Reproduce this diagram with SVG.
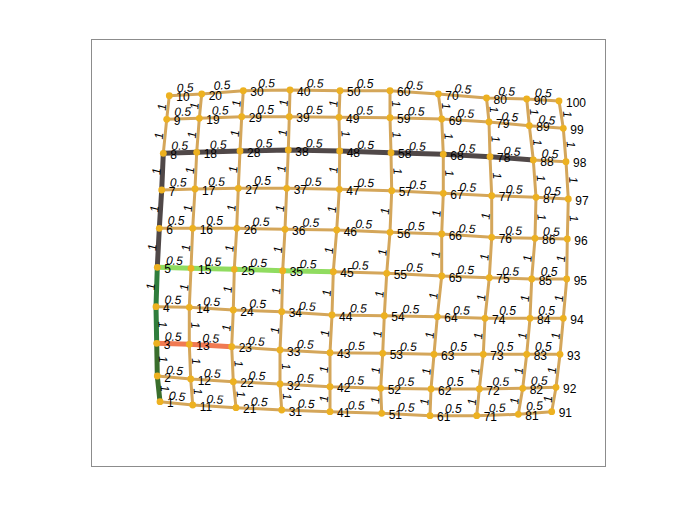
<svg xmlns="http://www.w3.org/2000/svg" width="700" height="525" viewBox="0 0 700 525">
<style>
.e{fill:none;stroke:#d4a65a;stroke-width:3;stroke-linejoin:round}
.h{fill:none;stroke-width:5;stroke-linejoin:round}
.n circle{fill:#edb120}
.n text{font-family:"Liberation Sans",Arial,sans-serif;font-size:12px;fill:#000}
.el text{font-family:"Liberation Sans",Arial,sans-serif;font-size:12px;font-style:italic;fill:#000;text-anchor:middle}
</style>
<rect x="0" y="0" width="700" height="525" fill="#fff"/>
<rect x="91.5" y="39.5" width="514" height="427" fill="#fff" stroke="#8c8c8c" stroke-width="1"/>
<g id="connectors">
<polyline class="e" points="160,401.7 157.3,376 156.7,343.3 156,306.7 157.3,267.3 159.3,228.3 161.7,190 163.3,153.3 166.7,119.3 169.3,95.7"/>
<polyline class="e" points="192.7,405 190.7,379 189.3,344.3 189.3,307.3 191,268.3 192.7,228.3 195,189 196.7,152.3 199.3,118.3 201.7,94"/>
<polyline class="e" points="236,407.7 233.3,381.7 231.7,346.7 233.3,310 234.3,269.3 236.7,228.3 238.3,188.3 240,151 241.7,116.7 243.3,90.7"/>
<polyline class="e" points="281.7,410 280,384 280,350 281.7,311.7 282.7,270.7 285,229.3 286.7,188.3 288.3,150 289.3,116.7 290,90"/>
<polyline class="e" points="330,411.7 330,386.7 330,352.7 332,315 333.3,271.7 336.7,230 339.3,189.3 339.7,151 339,117.3 340,90.7"/>
<polyline class="e" points="381.7,413.3 380.7,388.3 382.7,353.3 384.3,315.7 386.7,273.3 390,232.3 391.7,190.7 391,152.7 390,117.7 390,90.7"/>
<polyline class="e" points="430,415.7 431,389 434,354.3 437.3,316.7 441.7,276 441.7,234 443.3,193.3 443.3,154.3 441.7,119 438.3,94"/>
<polyline class="e" points="476.7,415.7 479.3,389 483.3,354.3 485,318.3 489.3,277.7 491.7,237.3 491.7,195.7 490,156.7 489,122 486.5,98"/>
<polyline class="e" points="518.3,414.3 522.7,388.3 526.7,354.3 530,318.3 531.7,279 535,238.3 536,197.3 533.3,160 529.3,125.7 526.7,99"/>
<polyline class="e" points="551.7,411.7 556,387.3 560,354.3 563.3,318.3 566.7,279 567.3,239 568.3,199 566,161.7 563.3,128.3 559,101"/>
<polyline class="e" points="160,401.7 192.7,405 236,407.7 281.7,410 330,411.7 381.7,413.3 430,415.7 476.7,415.7 518.3,414.3 551.7,411.7"/>
<polyline class="e" points="157.3,376 190.7,379 233.3,381.7 280,384 330,386.7 380.7,388.3 431,389 479.3,389 522.7,388.3 556,387.3"/>
<polyline class="e" points="156.7,343.3 189.3,344.3 231.7,346.7 280,350 330,352.7 382.7,353.3 434,354.3 483.3,354.3 526.7,354.3 560,354.3"/>
<polyline class="e" points="156,306.7 189.3,307.3 233.3,310 281.7,311.7 332,315 384.3,315.7 437.3,316.7 485,318.3 530,318.3 563.3,318.3"/>
<polyline class="e" points="157.3,267.3 191,268.3 234.3,269.3 282.7,270.7 333.3,271.7 386.7,273.3 441.7,276 489.3,277.7 531.7,279 566.7,279"/>
<polyline class="e" points="159.3,228.3 192.7,228.3 236.7,228.3 285,229.3 336.7,230 390,232.3 441.7,234 491.7,237.3 535,238.3 567.3,239"/>
<polyline class="e" points="161.7,190 195,189 238.3,188.3 286.7,188.3 339.3,189.3 391.7,190.7 443.3,193.3 491.7,195.7 536,197.3 568.3,199"/>
<polyline class="e" points="163.3,153.3 196.7,152.3 240,151 288.3,150 339.7,151 391,152.7 443.3,154.3 490,156.7 533.3,160 566,161.7"/>
<polyline class="e" points="166.7,119.3 199.3,118.3 241.7,116.7 289.3,116.7 339,117.3 390,117.7 441.7,119 489,122 529.3,125.7 563.3,128.3"/>
<polyline class="e" points="169.3,95.7 201.7,94 243.3,90.7 290,90 340,90.7 390,90.7 438.3,94 486.5,98 526.7,99 559,101"/>
<polyline class="h" stroke="#504848" points="157.3,267.3 159.3,228.3 161.7,190 163.3,153.3 196.7,152.3 240,151 288.3,150 339.7,151 391,152.7 443.3,154.3 490,156.7 533.3,160"/>
<polyline class="h" stroke="#2f7d3c" points="157.3,267.3 156,306.7 156.7,343.3"/>
<polyline class="h" stroke="#3a6e2c" points="156.7,343.3 157.3,376 160,401.7"/>
<polyline class="h" stroke="#90dc60" points="157.3,267.3 191,268.3 234.3,269.3 282.7,270.7 333.3,271.7"/>
<polyline class="h" stroke="#f07a52" points="156.7,343.3 189.3,344.3 231.7,346.7"/>
<g class="el">
<text transform="translate(176.4 403.4) rotate(5.8)" y="-3">0.5</text>
<text transform="translate(214.4 406.4) rotate(3.6)" y="-3">0.5</text>
<text transform="translate(258.9 408.9) rotate(2.9)" y="-3">0.5</text>
<text transform="translate(305.9 410.9) rotate(2)" y="-3">0.5</text>
<text transform="translate(355.9 412.5) rotate(1.8)" y="-3">0.5</text>
<text transform="translate(405.9 414.5) rotate(2.8)" y="-3">0.5</text>
<text transform="translate(453.4 415.7) rotate(0)" y="-3">0.5</text>
<text transform="translate(497.5 415) rotate(-1.9)" y="-3">0.5</text>
<text transform="translate(535 413) rotate(-4.5)" y="-3">0.5</text>
<text transform="translate(174 377.5) rotate(5.1)" y="-3">0.5</text>
<text transform="translate(212 380.4) rotate(3.6)" y="-3">0.5</text>
<text transform="translate(256.7 382.9) rotate(2.8)" y="-3">0.5</text>
<text transform="translate(305 385.4) rotate(3.1)" y="-3">0.5</text>
<text transform="translate(355.4 387.5) rotate(1.8)" y="-3">0.5</text>
<text transform="translate(405.9 388.7) rotate(0.8)" y="-3">0.5</text>
<text transform="translate(455.2 389) rotate(0)" y="-3">0.5</text>
<text transform="translate(501 388.7) rotate(-0.9)" y="-3">0.5</text>
<text transform="translate(539.4 387.8) rotate(-1.7)" y="-3">0.5</text>
<text transform="translate(173 343.8) rotate(1.8)" y="-3">0.5</text>
<text transform="translate(210.5 345.5) rotate(3.2)" y="-3">0.5</text>
<text transform="translate(255.9 348.4) rotate(3.9)" y="-3">0.5</text>
<text transform="translate(305 351.4) rotate(3.1)" y="-3">0.5</text>
<text transform="translate(356.4 353) rotate(0.7)" y="-3">0.5</text>
<text transform="translate(408.4 353.8) rotate(1.1)" y="-3">0.5</text>
<text transform="translate(458.7 354.3) rotate(0)" y="-3">0.5</text>
<text transform="translate(505 354.3) rotate(0)" y="-3">0.5</text>
<text transform="translate(543.4 354.3) rotate(0)" y="-3">0.5</text>
<text transform="translate(172.7 307) rotate(1)" y="-3">0.5</text>
<text transform="translate(211.3 308.7) rotate(3.5)" y="-3">0.5</text>
<text transform="translate(257.5 310.9) rotate(2)" y="-3">0.5</text>
<text transform="translate(306.9 313.4) rotate(3.8)" y="-3">0.5</text>
<text transform="translate(358.2 315.4) rotate(0.8)" y="-3">0.5</text>
<text transform="translate(410.8 316.2) rotate(1.1)" y="-3">0.5</text>
<text transform="translate(461.2 317.5) rotate(1.9)" y="-3">0.5</text>
<text transform="translate(507.5 318.3) rotate(0)" y="-3">0.5</text>
<text transform="translate(546.7 318.3) rotate(0)" y="-3">0.5</text>
<text transform="translate(174.2 267.8) rotate(1.7)" y="-3">0.5</text>
<text transform="translate(212.7 268.8) rotate(1.3)" y="-3">0.5</text>
<text transform="translate(258.5 270) rotate(1.7)" y="-3">0.5</text>
<text transform="translate(308 271.2) rotate(1.1)" y="-3">0.5</text>
<text transform="translate(360 272.5) rotate(1.7)" y="-3">0.5</text>
<text transform="translate(414.2 274.7) rotate(2.8)" y="-3">0.5</text>
<text transform="translate(465.5 276.9) rotate(2)" y="-3">0.5</text>
<text transform="translate(510.5 278.4) rotate(1.8)" y="-3">0.5</text>
<text transform="translate(549.2 279) rotate(0)" y="-3">0.5</text>
<text transform="translate(176 228.3) rotate(0)" y="-3">0.5</text>
<text transform="translate(214.7 228.3) rotate(0)" y="-3">0.5</text>
<text transform="translate(260.9 228.8) rotate(1.2)" y="-3">0.5</text>
<text transform="translate(310.9 229.7) rotate(0.8)" y="-3">0.5</text>
<text transform="translate(363.4 231.2) rotate(2.5)" y="-3">0.5</text>
<text transform="translate(415.9 233.2) rotate(1.9)" y="-3">0.5</text>
<text transform="translate(466.7 235.7) rotate(3.8)" y="-3">0.5</text>
<text transform="translate(513.4 237.8) rotate(1.3)" y="-3">0.5</text>
<text transform="translate(551.2 238.7) rotate(1.2)" y="-3">0.5</text>
<text transform="translate(178.4 189.5) rotate(-1.7)" y="-3">0.5</text>
<text transform="translate(216.7 188.7) rotate(-0.9)" y="-3">0.5</text>
<text transform="translate(262.5 188.3) rotate(0)" y="-3">0.5</text>
<text transform="translate(313 188.8) rotate(1.1)" y="-3">0.5</text>
<text transform="translate(365.5 190) rotate(1.5)" y="-3">0.5</text>
<text transform="translate(417.5 192) rotate(2.9)" y="-3">0.5</text>
<text transform="translate(467.5 194.5) rotate(2.8)" y="-3">0.5</text>
<text transform="translate(513.9 196.5) rotate(2.1)" y="-3">0.5</text>
<text transform="translate(552.2 198.2) rotate(3)" y="-3">0.5</text>
<text transform="translate(180 152.8) rotate(-1.7)" y="-3">0.5</text>
<text transform="translate(218.4 151.7) rotate(-1.7)" y="-3">0.5</text>
<text transform="translate(264.2 150.5) rotate(-1.2)" y="-3">0.5</text>
<text transform="translate(314 150.5) rotate(1.1)" y="-3">0.5</text>
<text transform="translate(365.4 151.9) rotate(1.9)" y="-3">0.5</text>
<text transform="translate(417.2 153.5) rotate(1.8)" y="-3">0.5</text>
<text transform="translate(466.7 155.5) rotate(2.9)" y="-3">0.5</text>
<text transform="translate(511.7 158.4) rotate(4.4)" y="-3">0.5</text>
<text transform="translate(549.7 160.9) rotate(3)" y="-3">0.5</text>
<text transform="translate(183 118.8) rotate(-1.8)" y="-3">0.5</text>
<text transform="translate(220.5 117.5) rotate(-2.2)" y="-3">0.5</text>
<text transform="translate(265.5 116.7) rotate(0)" y="-3">0.5</text>
<text transform="translate(314.2 117) rotate(0.7)" y="-3">0.5</text>
<text transform="translate(364.5 117.5) rotate(0.4)" y="-3">0.5</text>
<text transform="translate(415.9 118.4) rotate(1.4)" y="-3">0.5</text>
<text transform="translate(465.4 120.5) rotate(3.6)" y="-3">0.5</text>
<text transform="translate(509.2 123.9) rotate(5.2)" y="-3">0.5</text>
<text transform="translate(546.3 127) rotate(4.4)" y="-3">0.5</text>
<text transform="translate(185.5 94.9) rotate(-3)" y="-3">0.5</text>
<text transform="translate(222.5 92.4) rotate(-4.5)" y="-3">0.5</text>
<text transform="translate(266.7 90.4) rotate(-0.9)" y="-3">0.5</text>
<text transform="translate(315 90.4) rotate(0.8)" y="-3">0.5</text>
<text transform="translate(365 90.7) rotate(0)" y="-3">0.5</text>
<text transform="translate(414.2 92.4) rotate(3.9)" y="-3">0.5</text>
<text transform="translate(462.4 96) rotate(4.7)" y="-3">0.5</text>
<text transform="translate(506.6 98.5) rotate(1.4)" y="-3">0.5</text>
<text transform="translate(542.9 100) rotate(3.5)" y="-3">0.5</text>
<text transform="translate(158.7 388.9) rotate(86)" y="-2">1</text>
<text transform="translate(157 359.7) rotate(86)" y="-2">1</text>
<text transform="translate(156.4 325) rotate(86)" y="-2">1</text>
<text transform="translate(156.7 287) rotate(-86)" y="-2">1</text>
<text transform="translate(158.3 247.8) rotate(-86)" y="-2">1</text>
<text transform="translate(160.5 209.2) rotate(-86)" y="-2">1</text>
<text transform="translate(162.5 171.7) rotate(-86)" y="-2">1</text>
<text transform="translate(165 136.3) rotate(-86)" y="-2">1</text>
<text transform="translate(168 107.5) rotate(-86)" y="-2">1</text>
<text transform="translate(191.7 392) rotate(86)" y="-2">1</text>
<text transform="translate(190 361.7) rotate(86)" y="-2">1</text>
<text transform="translate(189.3 325.8) rotate(86)" y="-2">1</text>
<text transform="translate(190.2 287.8) rotate(-86)" y="-2">1</text>
<text transform="translate(191.9 248.3) rotate(-86)" y="-2">1</text>
<text transform="translate(193.9 208.7) rotate(-86)" y="-2">1</text>
<text transform="translate(195.9 170.7) rotate(-86)" y="-2">1</text>
<text transform="translate(198 135.3) rotate(-86)" y="-2">1</text>
<text transform="translate(200.5 106.2) rotate(-86)" y="-2">1</text>
<text transform="translate(234.7 394.7) rotate(86)" y="-2">1</text>
<text transform="translate(232.5 364.2) rotate(86)" y="-2">1</text>
<text transform="translate(232.5 328.4) rotate(-86)" y="-2">1</text>
<text transform="translate(233.8 289.7) rotate(-86)" y="-2">1</text>
<text transform="translate(235.5 248.8) rotate(-86)" y="-2">1</text>
<text transform="translate(237.5 208.3) rotate(-86)" y="-2">1</text>
<text transform="translate(239.2 169.7) rotate(-86)" y="-2">1</text>
<text transform="translate(240.9 133.9) rotate(-86)" y="-2">1</text>
<text transform="translate(242.5 103.7) rotate(-86)" y="-2">1</text>
<text transform="translate(280.9 397) rotate(86)" y="-2">1</text>
<text transform="translate(280 367) rotate(86)" y="-2">1</text>
<text transform="translate(280.9 330.9) rotate(-86)" y="-2">1</text>
<text transform="translate(282.2 291.2) rotate(-86)" y="-2">1</text>
<text transform="translate(283.9 250) rotate(-86)" y="-2">1</text>
<text transform="translate(285.9 208.8) rotate(-86)" y="-2">1</text>
<text transform="translate(287.5 169.2) rotate(-86)" y="-2">1</text>
<text transform="translate(288.8 133.4) rotate(-86)" y="-2">1</text>
<text transform="translate(289.7 103.4) rotate(-86)" y="-2">1</text>
<text transform="translate(330 399.2) rotate(-86)" y="-2">1</text>
<text transform="translate(330 369.7) rotate(-86)" y="-2">1</text>
<text transform="translate(331 333.9) rotate(-86)" y="-2">1</text>
<text transform="translate(332.7 293.4) rotate(-86)" y="-2">1</text>
<text transform="translate(335 250.9) rotate(-86)" y="-2">1</text>
<text transform="translate(338 209.7) rotate(-86)" y="-2">1</text>
<text transform="translate(339.5 170.2) rotate(-86)" y="-2">1</text>
<text transform="translate(339.4 134.2) rotate(86)" y="-2">1</text>
<text transform="translate(339.5 104) rotate(-86)" y="-2">1</text>
<text transform="translate(381.2 400.8) rotate(-86)" y="-2">1</text>
<text transform="translate(381.7 370.8) rotate(-86)" y="-2">1</text>
<text transform="translate(383.5 334.5) rotate(-86)" y="-2">1</text>
<text transform="translate(385.5 294.5) rotate(-86)" y="-2">1</text>
<text transform="translate(388.4 252.8) rotate(-86)" y="-2">1</text>
<text transform="translate(390.9 211.5) rotate(-86)" y="-2">1</text>
<text transform="translate(391.4 171.7) rotate(86)" y="-2">1</text>
<text transform="translate(390.5 135.2) rotate(86)" y="-2">1</text>
<text transform="translate(390 104.2) rotate(86)" y="-2">1</text>
<text transform="translate(430.5 402.4) rotate(-86)" y="-2">1</text>
<text transform="translate(432.5 371.7) rotate(-86)" y="-2">1</text>
<text transform="translate(435.7 335.5) rotate(-86)" y="-2">1</text>
<text transform="translate(439.5 296.4) rotate(-86)" y="-2">1</text>
<text transform="translate(441.7 255) rotate(-86)" y="-2">1</text>
<text transform="translate(442.5 213.7) rotate(-86)" y="-2">1</text>
<text transform="translate(443.3 173.8) rotate(86)" y="-2">1</text>
<text transform="translate(442.5 136.7) rotate(86)" y="-2">1</text>
<text transform="translate(440 106.5) rotate(86)" y="-2">1</text>
<text transform="translate(478 402.4) rotate(-86)" y="-2">1</text>
<text transform="translate(481.3 371.7) rotate(-86)" y="-2">1</text>
<text transform="translate(484.2 336.3) rotate(-86)" y="-2">1</text>
<text transform="translate(487.2 298) rotate(-86)" y="-2">1</text>
<text transform="translate(490.5 257.5) rotate(-86)" y="-2">1</text>
<text transform="translate(491.7 216.5) rotate(-86)" y="-2">1</text>
<text transform="translate(490.9 176.2) rotate(86)" y="-2">1</text>
<text transform="translate(489.5 139.4) rotate(86)" y="-2">1</text>
<text transform="translate(487.8 110) rotate(86)" y="-2">1</text>
<text transform="translate(520.5 401.3) rotate(-86)" y="-2">1</text>
<text transform="translate(524.7 371.3) rotate(-86)" y="-2">1</text>
<text transform="translate(528.4 336.3) rotate(-86)" y="-2">1</text>
<text transform="translate(530.9 298.7) rotate(-86)" y="-2">1</text>
<text transform="translate(533.4 258.7) rotate(-86)" y="-2">1</text>
<text transform="translate(535.5 217.8) rotate(86)" y="-2">1</text>
<text transform="translate(534.7 178.7) rotate(86)" y="-2">1</text>
<text transform="translate(531.3 142.9) rotate(86)" y="-2">1</text>
<text transform="translate(528 112.4) rotate(86)" y="-2">1</text>
<text transform="translate(553.9 399.5) rotate(-86)" y="-2">1</text>
<text transform="translate(558 370.8) rotate(-86)" y="-2">1</text>
<text transform="translate(561.7 336.3) rotate(-86)" y="-2">1</text>
<text transform="translate(565 298.7) rotate(-86)" y="-2">1</text>
<text transform="translate(567 259) rotate(-86)" y="-2">1</text>
<text transform="translate(567.8 219) rotate(86)" y="-2">1</text>
<text transform="translate(567.2 180.4) rotate(86)" y="-2">1</text>
<text transform="translate(564.7 145) rotate(86)" y="-2">1</text>
<text transform="translate(561.2 114.7) rotate(86)" y="-2">1</text>
</g>
</g>
<g id="n1" class="n"><circle cx="160" cy="401.7" r="3.4"/><text x="167" y="407.2">1</text></g>
<g id="n2" class="n"><circle cx="157.3" cy="376" r="3.4"/><text x="164.3" y="381.5">2</text></g>
<g id="n3" class="n"><circle cx="156.7" cy="343.3" r="3.4"/><text x="163.7" y="348.8">3</text></g>
<g id="n4" class="n"><circle cx="156" cy="306.7" r="3.4"/><text x="163" y="312.2">4</text></g>
<g id="n5" class="n"><circle cx="157.3" cy="267.3" r="3.4"/><text x="164.3" y="272.8">5</text></g>
<g id="n6" class="n"><circle cx="159.3" cy="228.3" r="3.4"/><text x="166.3" y="233.8">6</text></g>
<g id="n7" class="n"><circle cx="161.7" cy="190" r="3.4"/><text x="168.7" y="195.5">7</text></g>
<g id="n8" class="n"><circle cx="163.3" cy="153.3" r="3.4"/><text x="170.3" y="158.8">8</text></g>
<g id="n9" class="n"><circle cx="166.7" cy="119.3" r="3.4"/><text x="173.7" y="124.8">9</text></g>
<g id="n10" class="n"><circle cx="169.3" cy="95.7" r="3.4"/><text x="176.3" y="101.2">10</text></g>
<g id="n11" class="n"><circle cx="192.7" cy="405" r="3.4"/><text x="199.7" y="410.5">11</text></g>
<g id="n12" class="n"><circle cx="190.7" cy="379" r="3.4"/><text x="197.7" y="384.5">12</text></g>
<g id="n13" class="n"><circle cx="189.3" cy="344.3" r="3.4"/><text x="196.3" y="349.8">13</text></g>
<g id="n14" class="n"><circle cx="189.3" cy="307.3" r="3.4"/><text x="196.3" y="312.8">14</text></g>
<g id="n15" class="n"><circle cx="191" cy="268.3" r="3.4"/><text x="198" y="273.8">15</text></g>
<g id="n16" class="n"><circle cx="192.7" cy="228.3" r="3.4"/><text x="199.7" y="233.8">16</text></g>
<g id="n17" class="n"><circle cx="195" cy="189" r="3.4"/><text x="202" y="194.5">17</text></g>
<g id="n18" class="n"><circle cx="196.7" cy="152.3" r="3.4"/><text x="203.7" y="157.8">18</text></g>
<g id="n19" class="n"><circle cx="199.3" cy="118.3" r="3.4"/><text x="206.3" y="123.8">19</text></g>
<g id="n20" class="n"><circle cx="201.7" cy="94" r="3.4"/><text x="208.7" y="99.5">20</text></g>
<g id="n21" class="n"><circle cx="236" cy="407.7" r="3.4"/><text x="243" y="413.2">21</text></g>
<g id="n22" class="n"><circle cx="233.3" cy="381.7" r="3.4"/><text x="240.3" y="387.2">22</text></g>
<g id="n23" class="n"><circle cx="231.7" cy="346.7" r="3.4"/><text x="238.7" y="352.2">23</text></g>
<g id="n24" class="n"><circle cx="233.3" cy="310" r="3.4"/><text x="240.3" y="315.5">24</text></g>
<g id="n25" class="n"><circle cx="234.3" cy="269.3" r="3.4"/><text x="241.3" y="274.8">25</text></g>
<g id="n26" class="n"><circle cx="236.7" cy="228.3" r="3.4"/><text x="243.7" y="233.8">26</text></g>
<g id="n27" class="n"><circle cx="238.3" cy="188.3" r="3.4"/><text x="245.3" y="193.8">27</text></g>
<g id="n28" class="n"><circle cx="240" cy="151" r="3.4"/><text x="247" y="156.5">28</text></g>
<g id="n29" class="n"><circle cx="241.7" cy="116.7" r="3.4"/><text x="248.7" y="122.2">29</text></g>
<g id="n30" class="n"><circle cx="243.3" cy="90.7" r="3.4"/><text x="250.3" y="96.2">30</text></g>
<g id="n31" class="n"><circle cx="281.7" cy="410" r="3.4"/><text x="288.7" y="415.5">31</text></g>
<g id="n32" class="n"><circle cx="280" cy="384" r="3.4"/><text x="287" y="389.5">32</text></g>
<g id="n33" class="n"><circle cx="280" cy="350" r="3.4"/><text x="287" y="355.5">33</text></g>
<g id="n34" class="n"><circle cx="281.7" cy="311.7" r="3.4"/><text x="288.7" y="317.2">34</text></g>
<g id="n35" class="n"><circle cx="282.7" cy="270.7" r="3.4"/><text x="289.7" y="276.2">35</text></g>
<g id="n36" class="n"><circle cx="285" cy="229.3" r="3.4"/><text x="292" y="234.8">36</text></g>
<g id="n37" class="n"><circle cx="286.7" cy="188.3" r="3.4"/><text x="293.7" y="193.8">37</text></g>
<g id="n38" class="n"><circle cx="288.3" cy="150" r="3.4"/><text x="295.3" y="155.5">38</text></g>
<g id="n39" class="n"><circle cx="289.3" cy="116.7" r="3.4"/><text x="296.3" y="122.2">39</text></g>
<g id="n40" class="n"><circle cx="290" cy="90" r="3.4"/><text x="297" y="95.5">40</text></g>
<g id="n41" class="n"><circle cx="330" cy="411.7" r="3.4"/><text x="337" y="417.2">41</text></g>
<g id="n42" class="n"><circle cx="330" cy="386.7" r="3.4"/><text x="337" y="392.2">42</text></g>
<g id="n43" class="n"><circle cx="330" cy="352.7" r="3.4"/><text x="337" y="358.2">43</text></g>
<g id="n44" class="n"><circle cx="332" cy="315" r="3.4"/><text x="339" y="320.5">44</text></g>
<g id="n45" class="n"><circle cx="333.3" cy="271.7" r="3.4"/><text x="340.3" y="277.2">45</text></g>
<g id="n46" class="n"><circle cx="336.7" cy="230" r="3.4"/><text x="343.7" y="235.5">46</text></g>
<g id="n47" class="n"><circle cx="339.3" cy="189.3" r="3.4"/><text x="346.3" y="194.8">47</text></g>
<g id="n48" class="n"><circle cx="339.7" cy="151" r="3.4"/><text x="346.7" y="156.5">48</text></g>
<g id="n49" class="n"><circle cx="339" cy="117.3" r="3.4"/><text x="346" y="122.8">49</text></g>
<g id="n50" class="n"><circle cx="340" cy="90.7" r="3.4"/><text x="347" y="96.2">50</text></g>
<g id="n51" class="n"><circle cx="381.7" cy="413.3" r="3.4"/><text x="388.7" y="418.8">51</text></g>
<g id="n52" class="n"><circle cx="380.7" cy="388.3" r="3.4"/><text x="387.7" y="393.8">52</text></g>
<g id="n53" class="n"><circle cx="382.7" cy="353.3" r="3.4"/><text x="389.7" y="358.8">53</text></g>
<g id="n54" class="n"><circle cx="384.3" cy="315.7" r="3.4"/><text x="391.3" y="321.2">54</text></g>
<g id="n55" class="n"><circle cx="386.7" cy="273.3" r="3.4"/><text x="393.7" y="278.8">55</text></g>
<g id="n56" class="n"><circle cx="390" cy="232.3" r="3.4"/><text x="397" y="237.8">56</text></g>
<g id="n57" class="n"><circle cx="391.7" cy="190.7" r="3.4"/><text x="398.7" y="196.2">57</text></g>
<g id="n58" class="n"><circle cx="391" cy="152.7" r="3.4"/><text x="398" y="158.2">58</text></g>
<g id="n59" class="n"><circle cx="390" cy="117.7" r="3.4"/><text x="397" y="123.2">59</text></g>
<g id="n60" class="n"><circle cx="390" cy="90.7" r="3.4"/><text x="397" y="96.2">60</text></g>
<g id="n61" class="n"><circle cx="430" cy="415.7" r="3.4"/><text x="437" y="421.2">61</text></g>
<g id="n62" class="n"><circle cx="431" cy="389" r="3.4"/><text x="438" y="394.5">62</text></g>
<g id="n63" class="n"><circle cx="434" cy="354.3" r="3.4"/><text x="441" y="359.8">63</text></g>
<g id="n64" class="n"><circle cx="437.3" cy="316.7" r="3.4"/><text x="444.3" y="322.2">64</text></g>
<g id="n65" class="n"><circle cx="441.7" cy="276" r="3.4"/><text x="448.7" y="281.5">65</text></g>
<g id="n66" class="n"><circle cx="441.7" cy="234" r="3.4"/><text x="448.7" y="239.5">66</text></g>
<g id="n67" class="n"><circle cx="443.3" cy="193.3" r="3.4"/><text x="450.3" y="198.8">67</text></g>
<g id="n68" class="n"><circle cx="443.3" cy="154.3" r="3.4"/><text x="450.3" y="159.8">68</text></g>
<g id="n69" class="n"><circle cx="441.7" cy="119" r="3.4"/><text x="448.7" y="124.5">69</text></g>
<g id="n70" class="n"><circle cx="438.3" cy="94" r="3.4"/><text x="445.3" y="99.5">70</text></g>
<g id="n71" class="n"><circle cx="476.7" cy="415.7" r="3.4"/><text x="483.7" y="421.2">71</text></g>
<g id="n72" class="n"><circle cx="479.3" cy="389" r="3.4"/><text x="486.3" y="394.5">72</text></g>
<g id="n73" class="n"><circle cx="483.3" cy="354.3" r="3.4"/><text x="490.3" y="359.8">73</text></g>
<g id="n74" class="n"><circle cx="485" cy="318.3" r="3.4"/><text x="492" y="323.8">74</text></g>
<g id="n75" class="n"><circle cx="489.3" cy="277.7" r="3.4"/><text x="496.3" y="283.2">75</text></g>
<g id="n76" class="n"><circle cx="491.7" cy="237.3" r="3.4"/><text x="498.7" y="242.8">76</text></g>
<g id="n77" class="n"><circle cx="491.7" cy="195.7" r="3.4"/><text x="498.7" y="201.2">77</text></g>
<g id="n78" class="n"><circle cx="490" cy="156.7" r="3.4"/><text x="497" y="162.2">78</text></g>
<g id="n79" class="n"><circle cx="489" cy="122" r="3.4"/><text x="496" y="127.5">79</text></g>
<g id="n80" class="n"><circle cx="486.5" cy="98" r="3.4"/><text x="493.5" y="103.5">80</text></g>
<g id="n81" class="n"><circle cx="518.3" cy="414.3" r="3.4"/><text x="525.3" y="419.8">81</text></g>
<g id="n82" class="n"><circle cx="522.7" cy="388.3" r="3.4"/><text x="529.7" y="393.8">82</text></g>
<g id="n83" class="n"><circle cx="526.7" cy="354.3" r="3.4"/><text x="533.7" y="359.8">83</text></g>
<g id="n84" class="n"><circle cx="530" cy="318.3" r="3.4"/><text x="537" y="323.8">84</text></g>
<g id="n85" class="n"><circle cx="531.7" cy="279" r="3.4"/><text x="538.7" y="284.5">85</text></g>
<g id="n86" class="n"><circle cx="535" cy="238.3" r="3.4"/><text x="542" y="243.8">86</text></g>
<g id="n87" class="n"><circle cx="536" cy="197.3" r="3.4"/><text x="543" y="202.8">87</text></g>
<g id="n88" class="n"><circle cx="533.3" cy="160" r="3.4"/><text x="540.3" y="165.5">88</text></g>
<g id="n89" class="n"><circle cx="529.3" cy="125.7" r="3.4"/><text x="536.3" y="131.2">89</text></g>
<g id="n90" class="n"><circle cx="526.7" cy="99" r="3.4"/><text x="533.7" y="104.5">90</text></g>
<g id="n91" class="n"><circle cx="551.7" cy="411.7" r="3.4"/><text x="558.7" y="417.2">91</text></g>
<g id="n92" class="n"><circle cx="556" cy="387.3" r="3.4"/><text x="563" y="392.8">92</text></g>
<g id="n93" class="n"><circle cx="560" cy="354.3" r="3.4"/><text x="567" y="359.8">93</text></g>
<g id="n94" class="n"><circle cx="563.3" cy="318.3" r="3.4"/><text x="570.3" y="323.8">94</text></g>
<g id="n95" class="n"><circle cx="566.7" cy="279" r="3.4"/><text x="573.7" y="284.5">95</text></g>
<g id="n96" class="n"><circle cx="567.3" cy="239" r="3.4"/><text x="574.3" y="244.5">96</text></g>
<g id="n97" class="n"><circle cx="568.3" cy="199" r="3.4"/><text x="575.3" y="204.5">97</text></g>
<g id="n98" class="n"><circle cx="566" cy="161.7" r="3.4"/><text x="573" y="167.2">98</text></g>
<g id="n99" class="n"><circle cx="563.3" cy="128.3" r="3.4"/><text x="570.3" y="133.8">99</text></g>
<g id="n100" class="n"><circle cx="559" cy="101" r="3.4"/><text x="566" y="106.5">100</text></g>
</svg>
